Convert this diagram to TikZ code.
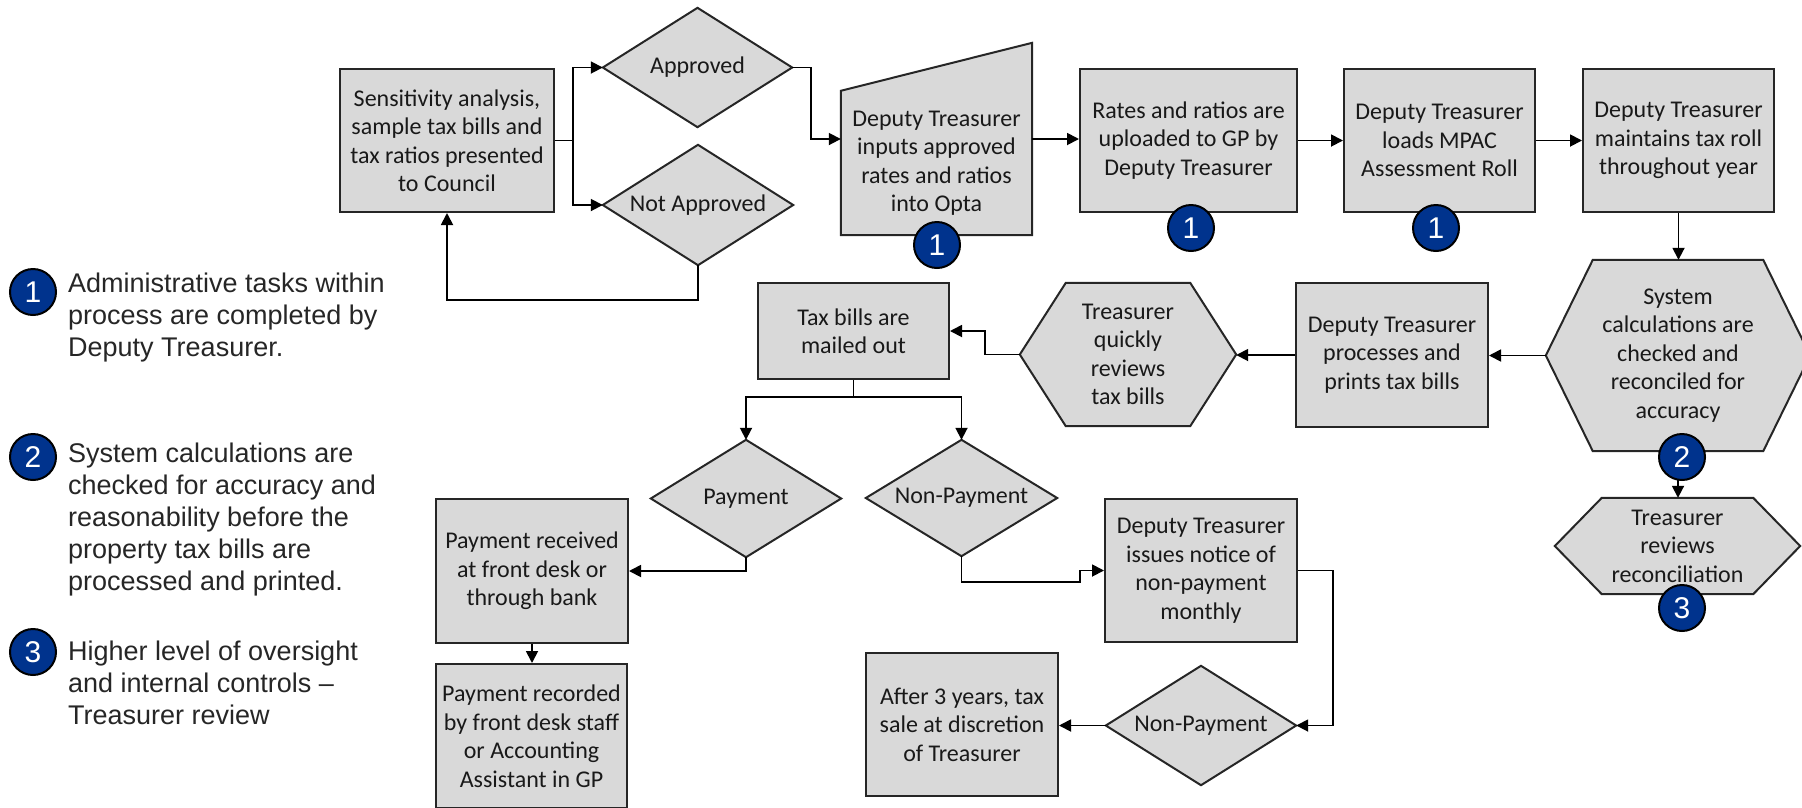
\documentclass[tikz,border=0pt]{standalone}
\usepackage{fontspec}
\setmainfont{Carlito}
\newfontfamily\legendfont{Liberation Sans}
\usetikzlibrary{arrows.meta,backgrounds,calc}
\definecolor{boxfill}{RGB}{217,217,217}
\definecolor{edge}{RGB}{38,38,38}
\definecolor{badgeblue}{RGB}{0,51,141}
\begin{document}
\begin{tikzpicture}[x=1pt,y=-1pt,
  txt/.style={font=\fontsize{24}{28.5}\selectfont, align=center, text=black!90},
  box/.style 2 args={txt, draw=edge, fill=boxfill, line width=2pt,
    minimum width=#1pt, minimum height=#2pt, inner sep=0pt},
  slot/.style 2 args={txt, minimum width=#1pt, minimum height=#2pt, inner sep=0pt},
  outline/.style={draw=edge, fill=boxfill, line width=2pt, line join=miter},
  arr/.style={line width=1.8pt, draw=black, -{Triangle[length=12pt,width=12pt]}},
  badge/.style={circle, draw=black, line width=2pt, fill=badgeblue, text=white,
    minimum size=46pt, inner sep=0pt, font=\legendfont\fontsize{30}{30}\selectfont},
  note/.style={font=\legendfont\fontsize{27}{32}\selectfont, align=left,
    anchor=west, text=black!85, inner sep=0pt}
]
\useasboundingbox (0,0) rectangle (1802,807);
\clip (0,0) rectangle (1802,807);

% ---- process boxes ----
\node[box={214}{143}] (sens) at (447,140.5) {Sensitivity analysis,\\sample tax bills and\\tax ratios presented\\to Council};
\node[slot={191}{144}] (opta) at (936.5,163) {Deputy Treasurer\\inputs approved\\rates and ratios\\into Opta};
\node[box={217}{143}] (rates) at (1188.5,140.5) {Rates and ratios are\\uploaded to GP by\\Deputy Treasurer};
\node[box={191}{143}] (mpac) at (1439.5,140.5) {Deputy Treasurer\\loads MPAC\\Assessment Roll};
\node[box={191}{143}] (maint) at (1678.5,140.5) {Deputy Treasurer\\maintains tax roll\\throughout year};
\node[box={192}{144}] (proc) at (1392,355) {Deputy Treasurer\\processes and\\prints tax bills};
\node[box={191}{96}] (mailed) at (853.5,331) {Tax bills are\\mailed out};
\node[box={192}{144}] (recv) at (532,571) {Payment received\\at front desk or\\through bank};
\node[box={191}{144}] (rec) at (531.5,736) {Payment recorded\\by front desk staff\\or Accounting\\Assistant in GP};
\node[box={192}{143}] (issues) at (1201,570.5) {Deputy Treasurer\\issues notice of\\non-payment\\monthly};
\node[box={192}{143}] (late) at (962,724.5) {After 3 years, tax\\sale at discretion\\of Treasurer};

% ---- decisions ----
\node[slot={189}{119}] (appr) at (697.5,67.5) {Approved};
\node[slot={190}{120}] (napp) at (698,205) {Not Approved};
\node[slot={190}{117}] (pay) at (746,498.5) {Payment};
\node[slot={191}{116}] (nonpay) at (961.5,498) {Non-Payment};
\node[slot={190}{119}] (npay2) at (1201,725.5) {Non-Payment};

% ---- reviews ----
\node[slot={216}{143}] (quick) at (1128,354.5) {Treasurer\\quickly\\reviews\\tax bills};
\node[slot={264}{191}] (sys) at (1678,355.5) {System\\calculations are\\checked and\\reconciled for\\accuracy};
\node[slot={245}{96}] (rev) at (1677.5,546) {Treasurer\\reviews\\reconciliation};

\begin{scope}[on background layer]
  \foreach \d in {appr,napp,pay,nonpay,npay2}
    \path[outline] (\d.west) -- (\d.north) -- (\d.east) -- (\d.south) -- cycle;
  \path[outline] (opta.south west) -- (opta.north west)
     -- ([yshift=48pt]opta.north east) -- (opta.south east) -- cycle;
  \path[outline] (quick.west) -- ([xshift=46pt]quick.north west)
     -- ([xshift=-46pt]quick.north east) -- (quick.east)
     -- ([xshift=-46pt]quick.south east) -- ([xshift=46pt]quick.south west) -- cycle;
  \path[outline] (sys.west) -- ([xshift=47pt]sys.north west)
     -- ([xshift=-47pt]sys.north east) -- (sys.east)
     -- ([xshift=-47pt]sys.south east) -- ([xshift=47pt]sys.south west) -- cycle;
  \path[outline] (rev.west) -- ([xshift=47pt]rev.north west)
     -- ([xshift=-47pt]rev.north east) -- (rev.east)
     -- ([xshift=-47pt]rev.south east) -- ([xshift=47pt]rev.south west) -- cycle;
\end{scope}

% ---- connectors ----
\draw[arr] (sens.east) -- ++(18,0) |- (appr.west);
\draw[arr] (sens.east) -- ++(18,0) |- (napp.west);
\draw[arr] (napp.south) -- ++(0,35) -| (sens.south);
\draw[arr] (appr.east) -- ++(19,0) |- ([yshift=24pt]opta.west);
\draw[arr] ([yshift=24pt]opta.east) -- ([yshift=24pt]opta.east -| rates.west);
\draw[arr] (rates.east) -- (mpac.west);
\draw[arr] (mpac.east) -- (maint.west);
\draw[arr] (maint.south) -- (maint.south |- sys.north);
\draw[arr] (sys.west) -- (sys.west -| proc.east);
\draw[arr] (proc.west) -- (proc.west -| quick.east);
\draw[arr] (quick.west) -- ++(-35,0) |- (mailed.east);
\draw[arr] (mailed.south) -- ++(0,17) -| (pay.north);
\draw[arr] (mailed.south) -- ++(0,17) -| (nonpay.north);
\draw[arr] (pay.south) |- (recv.east);
\draw[arr] (recv.south) -- (recv.south |- rec.north);
\draw[arr] (nonpay.south) -- ++(0,26) -| ([xshift=-24pt]issues.west) -- (issues.west);
\draw[arr] (issues.east) -- ++(35,0) |- (npay2.east);
\draw[arr] (npay2.west) -- (npay2.west -| late.east);
\draw[arr] (sys.south) -- (sys.south |- rev.north);

% ---- reviewer badges ----
\node[badge] (b1) at (937,245) {1};
\node[badge] (b2) at (1191,228) {1};
\node[badge] (b3) at (1436,228) {1};
\node[badge] (b4) at (1682,457) {2};
\node[badge] (b5) at (1682,608) {3};

% ---- legend ----
\node[badge] (k1) at (33,292) {1};
\node[badge] (k2) at (33,457) {2};
\node[badge] (k3) at (33,652) {3};
\node[note] (n1) at (68,318) {Administrative tasks within\\process are completed by\\Deputy Treasurer.};
\node[note] (n2) at (68,520) {System calculations are\\checked for accuracy and\\reasonability before the\\property tax bills are\\processed and printed.};
\node[note] (n3) at (68,683) {Higher level of oversight\\and internal controls –\\Treasurer review};
\end{tikzpicture}
\end{document}
